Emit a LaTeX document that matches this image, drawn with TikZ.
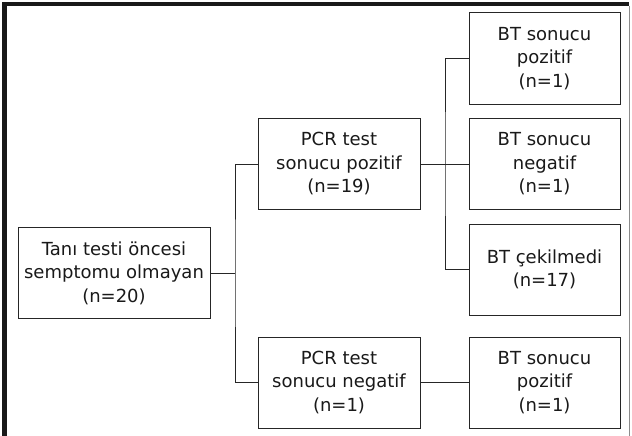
\documentclass[tikz,border=0pt]{standalone}
\usepackage{fontspec}
\setmainfont{DejaVu Sans}
\tikzset{
  kutu/.style={draw=black!85, line width=1pt, align=center,
    minimum height=91pt, inner sep=0pt,
    font=\fontsize{18}{23.5}\selectfont, text=black!90},
  hat/.style={draw=black!85, line width=0.9pt}
}
\begin{document}
\begin{tikzpicture}[x=1pt, y=-1pt]
  \useasboundingbox (0,0) rectangle (632,436);

  % --- cerceve ---
  \draw[line width=4.5pt, black!90] (4.5,436) -- (4.5,4) -- (629,4);
  \draw[line width=1.5pt, black!45] (629.5,6) -- (629.5,436);

  % --- kutular ---
  \node[kutu, minimum width=192pt] (kok) at (114, 273)
    {Tanı testi öncesi\\semptomu olmayan\\(n=20)};
  \node[kutu, minimum width=162pt] (pcrpoz) at (339, 164)
    {PCR test\\sonucu pozitif\\(n=19)};
  \node[kutu, minimum width=162pt] (pcrneg) at (339, 382.5)
    {PCR test\\sonucu negatif\\(n=1)};
  \node[kutu, minimum width=151pt] (btpoz) at (544.5, 58.5)
    {BT sonucu\\pozitif\\(n=1)};
  \node[kutu, minimum width=151pt] (btneg) at (544.5, 164)
    {BT sonucu\\negatif\\(n=1)};
  \node[kutu, minimum width=151pt] (btcek) at (544.5, 269.5)
    {BT çekilmedi\\(n=17)};
  \node[kutu, minimum width=151pt] (btpoz2) at (544.5, 382.5)
    {BT sonucu\\pozitif\\(n=1)};

  % --- baglantilar ---
  \coordinate (d1) at (235, 273);
  \coordinate (d2) at (445, 164);
  \draw[hat] (kok.east) -- (d1);
  \draw[hat] (pcrpoz.west) -| (d1) |- (pcrneg.west);
  \draw[hat] (pcrpoz.east) -- (btneg.west);
  \draw[hat] (btpoz.west) -| (d2) |- (btcek.west);
  \draw[hat] (pcrneg.east) -- (btpoz2.west);

\end{tikzpicture}
\end{document}
